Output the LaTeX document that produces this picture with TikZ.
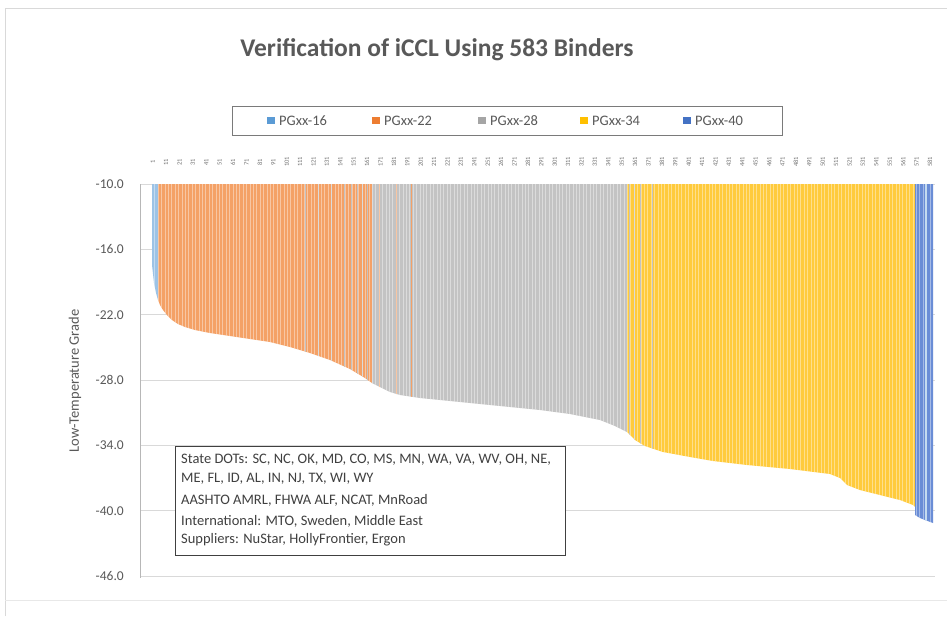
\documentclass[tikz,border=0pt]{standalone}
\usepackage{fontspec}
\setmainfont{Carlito}
\definecolor{txt}{HTML}{595959}
\definecolor{boxtxt}{HTML}{404040}
\definecolor{gridc}{HTML}{D9D9D9}
\definecolor{framec}{HTML}{D9D9D9}
\definecolor{c16}{HTML}{5B9BD5}
\definecolor{c22}{HTML}{ED7D31}
\definecolor{c28}{HTML}{A5A5A5}
\definecolor{c34}{HTML}{FFC000}
\definecolor{c40}{HTML}{4472C4}
\definecolor{f16}{HTML}{9DC3E6}
\definecolor{f22}{HTML}{F4A166}
\definecolor{f28}{HTML}{C3C3C3}
\definecolor{f34}{HTML}{FFCB3C}
\definecolor{f40}{HTML}{6A8DD6}
\begin{document}
\begin{tikzpicture}[x=1pt,y=-1pt,
  ticklab/.style={font=\fontsize{13.5}{14}\selectfont,text=txt,anchor=east,inner sep=0pt},
  legtext/.style={font=\fontsize{14.5}{15}\selectfont,text=txt,anchor=west,inner sep=0pt},
  legmark/.style={minimum size=7.5pt,inner sep=0pt,draw=none},
  boxline/.style={font=\fontsize{14.5}{15}\selectfont,text=boxtxt,anchor=west,inner sep=0pt},
  toplab/.style={font=\fontsize{6.5}{6.5}\selectfont,text=txt!85,rotate=90,inner sep=0pt},
  gridline/.style={draw=gridc,line width=0.8pt},
  stripe/.style={draw=white,opacity=0.4,line width=0.55pt}]
\useasboundingbox (0,0) rectangle (947,616);
\fill[white] (0,0) rectangle (947,616);
% chart frame
\draw[framec,line width=1pt] (5,616) -- (5,8) -- (947,8);
\draw[framec!60,line width=0.8pt] (5,600) -- (947,600);
% title
\node[font=\bfseries\fontsize{25.5}{27}\selectfont,text=txt] (title) at (437,50) {Verification of iCCL Using 583 Binders};
% legend
\node[draw=txt!80,line width=0.8pt,minimum width=550pt,minimum height=29pt,inner sep=0pt] (legbox) at (507,120.5) {};
\node[legmark,fill=c16] (m16) at (271,120.5) {};
\node[legtext] (l16) at (279,120.5) {PGxx-16};
\node[legmark,fill=c22] (m22) at (376,120.5) {};
\node[legtext] (l22) at (384,120.5) {PGxx-22};
\node[legmark,fill=c28] (m28) at (482,120.5) {};
\node[legtext] (l28) at (490,120.5) {PGxx-28};
\node[legmark,fill=c34] (m34) at (584,120.5) {};
\node[legtext] (l34) at (592,120.5) {PGxx-34};
\node[legmark,fill=c40] (m40) at (687,120.5) {};
\node[legtext] (l40) at (695,120.5) {PGxx-40};
% gridlines
\foreach \yy in {184,249.33,314.67,380,445.33,510.67,576}
  \draw[gridline] (140,\yy) -- (935,\yy);
% y tick labels
\node[ticklab] (y10) at (124,184) {-10.0};
\node[ticklab] (y16) at (124,249.33) {-16.0};
\node[ticklab] (y22) at (124,314.67) {-22.0};
\node[ticklab] (y28) at (124,380) {-28.0};
\node[ticklab] (y34) at (124,445.33) {-34.0};
\node[ticklab] (y40) at (124,510.67) {-40.0};
\node[ticklab] (y46) at (124,576) {-46.0};
\node[font=\fontsize{14.5}{15}\selectfont,text=txt,rotate=90] (ytitle) at (75,381) {Low-Temperature Grade};
% bars: PGxx-16
\fill[f16] (152,184) -- (152,265) -- (154,283) -- (156,293) -- (158,300) -- (158,184) -- cycle;
% PGxx-22
\fill[f22] (158,184) -- (158,300) -- (160,305) -- (163,310) -- (167,315) -- (172,320) -- (178,324) -- (185,327) -- (195,330) -- (210,333) -- (230,336) -- (250,339) -- (270,342) -- (290,347) -- (310,353) -- (330,360) -- (350,369) -- (365,378) -- (372,383) -- (372,184) -- cycle;
% PGxx-28
\fill[f28] (372,184) -- (372,383) -- (380,387) -- (390,392) -- (400,395) -- (420,398) -- (450,401) -- (480,404) -- (510,407) -- (540,410) -- (570,414) -- (600,420) -- (615,426) -- (627,432) -- (627,184) -- cycle;
% PGxx-34
\fill[f34] (627,184) -- (627,432) -- (635,440) -- (645,446) -- (663,452) -- (690,457) -- (713,461) -- (747,465) -- (790,469) -- (830,474) -- (840,478) -- (847,485) -- (860,490) -- (880,495) -- (900,500) -- (913,505) -- (915,507) -- (915,184) -- cycle;
% PGxx-40
\fill[f40] (915,184) -- (915,515) -- (920,518) -- (925,520) -- (933,523) -- (933,184) -- cycle;
% interspersed bars and stripes
\begin{scope}
\clip (152,184) -- (152,265) -- (154,283) -- (156,293) -- (158,300) -- (160,305) -- (163,310) -- (167,315) -- (172,320) -- (178,324) -- (185,327) -- (195,330) -- (210,333) -- (230,336) -- (250,339) -- (270,342) -- (290,347) -- (310,353) -- (330,360) -- (350,369) -- (365,378) -- (372,383) -- (380,387) -- (390,392) -- (400,395) -- (420,398) -- (450,401) -- (480,404) -- (510,407) -- (540,410) -- (570,414) -- (600,420) -- (615,426) -- (627,432) -- (635,440) -- (645,446) -- (663,452) -- (690,457) -- (713,461) -- (747,465) -- (790,469) -- (830,474) -- (840,478) -- (847,485) -- (860,490) -- (880,495) -- (900,500) -- (913,505) -- (915,507) -- (915,515) -- (920,518) -- (925,520) -- (933,523) -- (933,184) -- cycle;
\foreach \xx in {305,318,331,344,351,357,362,367}
  \fill[f28] (\xx,184) rectangle ++(1.4,400);
\foreach \xx in {379,396,411}
  \fill[f22] (\xx,184) rectangle ++(1.4,400);
\foreach \xx in {629,634,640,652}
  \fill[f28] (\xx,184) rectangle ++(1.4,400);
\foreach \xx in {154.7,158.1,...,933}
  \draw[stripe] (\xx,184) -- (\xx,530);
\draw[f16!60!white,line width=1.2pt] (926,184) -- (926,530);
\end{scope}
% top category labels
\foreach \n [evaluate=\n as \xp using {152+(\n-0.5)*1.34}] in {1,11,...,581}
  \node[toplab] at (\xp,162) {\n};
% vertical axis line
\draw[c28!80,line width=1pt] (140,184) -- (140,578);
% text box
\node[draw=boxtxt,fill=white,line width=0.8pt,minimum width=390pt,minimum height=109pt,inner sep=0pt] (infobox) at (370,500.5) {};
\node[boxline] (b1) at (181,460) {State DOTs: SC, NC, OK, MD, CO, MS, MN, WA, VA, WV, OH, NE,};
\node[boxline] (b2) at (181,479) {ME, FL, ID, AL, IN, NJ, TX, WI, WY};
\node[boxline] (b3) at (181,500) {AASHTO AMRL, FHWA ALF, NCAT, MnRoad};
\node[boxline] (b4) at (181,521) {International: MTO, Sweden, Middle East};
\node[boxline] (b5) at (181,540) {Suppliers: NuStar, HollyFrontier, Ergon};
\end{tikzpicture}
\end{document}
